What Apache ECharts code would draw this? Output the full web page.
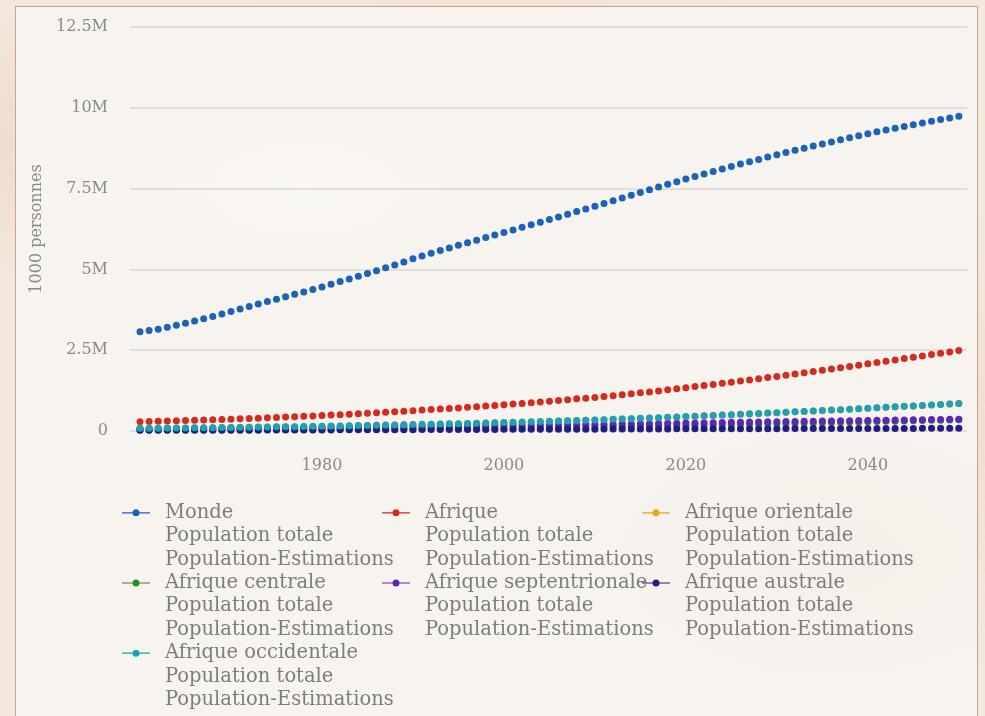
<!DOCTYPE html>
<html>
<head>
<meta charset="utf-8">
<script src="https://cdn.jsdelivr.net/npm/echarts@6/dist/echarts.min.js"></script>
<style>
  html, body { margin: 0; padding: 0; width: 985px; height: 716px; overflow: hidden; }
  body {
    background:
      radial-gradient(ellipse 300px 200px at 5% 20%, rgba(236,214,196,0.7), rgba(236,214,196,0) 70%),
      radial-gradient(ellipse 250px 300px at 98% 60%, rgba(238,218,200,0.6), rgba(238,218,200,0) 70%),
      radial-gradient(ellipse 400px 200px at 50% 0%, rgba(240,222,206,0.6), rgba(240,222,206,0) 70%),
      #f3e8de;
  }
  #frame {
    position: absolute; left: 15px; top: 6px; width: 961px; height: 730px;
    border: 1.5px solid #c8a58a;
    background:
      radial-gradient(ellipse 300px 150px at 30% 25%, rgba(255,255,255,0.35), rgba(255,255,255,0) 70%),
      radial-gradient(ellipse 350px 200px at 85% 75%, rgba(244,236,228,0.5), rgba(244,236,228,0) 70%),
      #f7f3ee;
  }
  #chart { position: absolute; left: 0; top: 0; width: 985px; height: 716px; }
</style>
</head>
<body>
<div id="frame"></div>
<div id="chart"></div>
<script>
// Years 1960..2050
const years = [];
for (let y = 1960; y <= 2050; y++) years.push(y);

// Values in millions of persons (axis unit is 1000 persons)
const monde = [
  3070, 3106, 3152, 3210, 3272, 3336, 3403, 3472, 3543, 3618,
  3700, 3777, 3853, 3929, 4004, 4079, 4154, 4229, 4304, 4380,
  4458, 4540, 4623, 4706, 4790, 4874, 4960, 5048, 5138, 5232,
  5327, 5413, 5498, 5582, 5665, 5744, 5825, 5905, 5985, 6064,
  6143, 6222, 6301, 6381, 6461, 6542, 6624, 6706, 6789, 6872,
  6957, 7042, 7126, 7211, 7296, 7380, 7464, 7548, 7631, 7713,
  7795, 7875, 7954, 8032, 8108, 8184, 8258, 8331, 8404, 8476,
  8548, 8616, 8683, 8750, 8816, 8881, 8945, 9010, 9073, 9136,
  9199, 9257, 9314, 9370, 9425, 9479, 9532, 9584, 9635, 9685,
  9740
];
const afrique = [
  290, 296, 303, 310, 317, 324, 332, 340, 348, 357,
  366, 376, 386, 397, 408, 419, 431, 441, 453, 465,
  478, 492, 505, 520, 534, 549, 564, 580, 596, 613,
  630, 646, 663, 679, 696, 713, 731, 751, 770, 790,
  811, 832, 853, 875, 898, 921, 945, 969, 994, 1016,
  1039, 1066, 1093, 1121, 1150, 1180, 1210, 1241, 1273, 1306,
  1341, 1374, 1407, 1441, 1475, 1510, 1545, 1580, 1616, 1652,
  1688, 1725, 1763, 1801, 1839, 1878, 1917, 1957, 1997, 2037,
  2077, 2118, 2159, 2200, 2241, 2283, 2324, 2365, 2406, 2448,
  2489
];
const orientale = [
  82, 84, 87, 89, 92, 95, 97, 100, 103, 106,
  109, 112, 116, 119, 123, 127, 130, 134, 138, 143,
  147, 152, 157, 162, 167, 172, 178, 183, 188, 193,
  199, 204, 209, 214, 220, 226, 232, 239, 246, 253,
  260, 267, 274, 282, 290, 298, 306, 314, 323, 332,
  341, 350, 360, 370, 380, 390, 400, 411, 422, 433,
  444, 456, 468, 480, 492, 504, 517, 529, 541, 554,
  566, 579, 593, 606, 619, 633, 647, 660, 674, 688,
  701, 716, 731, 746, 761, 776, 790, 805, 820, 835,
  850
];
const centrale = [
  32, 33, 34, 34, 35, 36, 36, 37, 38, 39,
  40, 41, 42, 43, 45, 46, 47, 48, 50, 51,
  53, 54, 56, 57, 59, 60, 62, 64, 66, 68,
  70, 72, 74, 77, 79, 82, 84, 87, 89, 92,
  95, 98, 101, 104, 107, 111, 114, 117, 120, 123,
  127, 131, 136, 141, 146, 151, 156, 160, 164, 169,
  174, 179, 184, 189, 194, 200, 205, 210, 215, 221,
  226, 232, 238, 244, 250, 256, 262, 268, 275, 281,
  287, 293, 299, 305, 311, 317, 323, 329, 335, 341,
  347
];
const septentrionale = [
  67, 69, 70, 72, 74, 76, 78, 80, 82, 84,
  86, 88, 90, 92, 95, 97, 100, 102, 105, 107,
  110, 113, 116, 119, 123, 126, 129, 133, 136, 140,
  143, 146, 149, 152, 155, 158, 161, 164, 167, 170,
  173, 176, 179, 182, 185, 188, 191, 194, 197, 200,
  203, 207, 211, 215, 220, 224, 228, 233, 237, 242,
  246, 251, 255, 259, 263, 267, 271, 275, 279, 283,
  287, 291, 295, 299, 303, 307, 311, 315, 319, 323,
  327, 331, 335, 338, 342, 346, 349, 353, 357, 360,
  364
];
const australe = [
  20, 20, 21, 21, 22, 22, 23, 23, 24, 24,
  25, 26, 26, 27, 28, 29, 29, 30, 31, 32,
  33, 34, 35, 36, 37, 38, 38, 39, 40, 41,
  42, 43, 44, 45, 46, 47, 48, 48, 49, 50,
  51, 52, 52, 53, 54, 54, 55, 56, 56, 57,
  58, 59, 60, 61, 62, 63, 64, 64, 65, 66,
  67, 68, 68, 69, 70, 70, 71, 71, 72, 72,
  73, 74, 74, 75, 75, 76, 76, 77, 78, 78,
  79, 79, 80, 80, 81, 81, 82, 82, 82, 83,
  83
];
const occidentale = [
  83, 85, 88, 90, 93, 96, 98, 101, 104, 107,
  110, 113, 117, 120, 124, 128, 131, 135, 139, 144,
  148, 153, 158, 163, 168, 173, 179, 184, 189, 194,
  200, 205, 210, 215, 221, 227, 233, 240, 247, 254,
  261, 268, 275, 283, 291, 299, 307, 315, 324, 333,
  342, 351, 361, 371, 381, 391, 401, 412, 423, 434,
  445, 457, 469, 481, 493, 505, 518, 530, 542, 555,
  567, 580, 594, 607, 620, 634, 648, 661, 675, 689,
  702, 717, 732, 747, 762, 777, 791, 806, 821, 836,
  851
];

const seriesNames = ['Monde', 'Afrique', 'Afrique orientale', 'Afrique centrale',
  'Afrique septentrionale', 'Afrique australe', 'Afrique occidentale'];
const seriesValues = [monde, afrique, orientale, centrale, septentrionale, australe, occidentale];
const seriesColors = ['#1c62b8', '#d42b1e', '#f0a21e', '#2b8c2b', '#5e27b3', '#201c82', '#1ba2b6'];
const legendSubLines = ['Population totale', 'Population-Estimations'];
const xTickValues = [1980, 2000, 2020, 2040];
const yAxisName = '1000 personnes';
// legend columns (series laid out row by row, 3 per row)
const legendColumns = [
  ['Monde', 'Afrique centrale', 'Afrique occidentale'],
  ['Afrique', 'Afrique septentrionale'],
  ['Afrique orientale', 'Afrique australe']
];

const UNIT = 1000; // millions -> thousands of persons

const chart = echarts.init(document.getElementById('chart'), null, { renderer: 'canvas' });

const legendIcon = 'path://M0,0 L0.01,0 L0,0.01 Z ' +
  'M0,11.1 L28,11.1 L28,12.3 L0,12.3 Z ' +
  'M17.5,11.7 A3.5,3.5 0 1 1 10.5,11.7 A3.5,3.5 0 1 1 17.5,11.7 Z ' +
  'M28,70 L27.99,70 L28,69.99 Z';

const FONT = 'DejaVu Serif';
const legendLefts = [122, 382, 642];

chart.setOption({
  backgroundColor: 'transparent',
  animation: false,
  grid: { left: 130, right: 18, top: 27, bottom: 285, containLabel: false },
  xAxis: {
    type: 'value',
    min: 1958.9,
    max: 2050.9,
    offset: 16,
    axisLine: { show: false },
    axisTick: { show: false, customValues: xTickValues },
    splitLine: { show: false },
    axisLabel: {
      customValues: xTickValues,
      color: '#8a8a8a', fontFamily: FONT, fontSize: 16, margin: 11,
      formatter: v => String(v)
    }
  },
  yAxis: {
    type: 'value',
    min: 0,
    max: 12500000,
    interval: 2500000,
    name: yAxisName,
    nameLocation: 'middle',
    nameGap: 83,
    nameTextStyle: { color: '#8a8a8a', fontFamily: FONT, fontSize: 16 },
    axisLine: { show: false },
    axisTick: { show: false },
    splitLine: { lineStyle: { color: '#e3ded8', width: 1.8 } },
    axisLabel: {
      color: '#8a8a8a', fontFamily: FONT, fontSize: 16, margin: 22,
      formatter: v => v === 0 ? '0' : (v / 1e6) + 'M'
    }
  },
  legend: legendColumns.map((col, ci) => ({
    left: legendLefts[ci],
    top: 501,
    padding: 0,
    orient: 'vertical',
    itemGap: 0,
    itemWidth: 28,
    itemHeight: 70,
    icon: legendIcon,
    itemStyle: { borderWidth: 0 },
    formatter: name => [name].concat(legendSubLines).join('\n'),
    textStyle: {
      color: '#7d7d7d', fontFamily: FONT, fontSize: 19.5,
      lineHeight: 23.4, padding: [0, 0, 0, 10]
    },
    data: col
  })),
  series: seriesNames.map((n, i) => ({
    name: n,
    type: 'scatter',
    symbol: 'circle',
    symbolSize: 7,
    itemStyle: { color: seriesColors[i], opacity: 1 },
    data: years.map((y, k) => [y, seriesValues[i][k] * UNIT])
  }))
});
</script>
</body>
</html>
